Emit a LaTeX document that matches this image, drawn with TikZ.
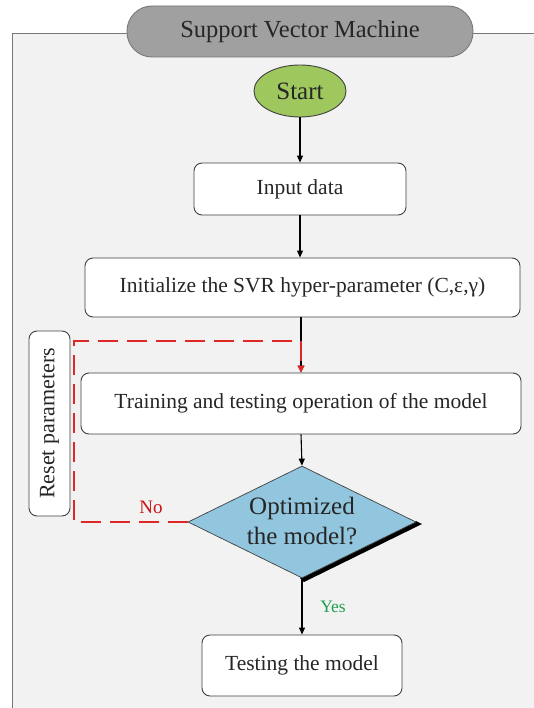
\documentclass[tikz,border=0pt]{standalone}
\usepackage{fontspec}
\setmainfont{Liberation Serif}
\usetikzlibrary{shapes.geometric,arrows.meta}
\definecolor{bgc}{RGB}{242,242,242}
\definecolor{framec}{RGB}{120,120,120}
\definecolor{titlec}{RGB}{160,160,160}
\definecolor{startc}{RGB}{158,200,94}
\definecolor{diac}{RGB}{146,198,222}
\definecolor{txtc}{RGB}{38,38,38}
\definecolor{boxc}{RGB}{64,64,64}
\definecolor{redc}{RGB}{222,40,40}
\definecolor{noc}{RGB}{200,20,20}
\definecolor{yesc}{RGB}{30,160,80}
\tikzset{
  procbox/.style={draw=boxc, line width=0.9pt, fill=white, rounded corners=8pt, text=txtc,
    font=\fontsize{21.5}{26}\selectfont, inner sep=0pt},
  arr/.style={draw=black, line width=1.1pt, -{Triangle[length=7pt,width=6pt]}},
  redarr/.style={draw=redc, line width=2pt, dash pattern=on 20pt off 9pt,
    -{Triangle[length=7pt,width=7pt]}},
}
\begin{document}
\begin{tikzpicture}[x=1pt,y=-1pt]
\useasboundingbox (0,0) rectangle (533,708);
% frame
\fill[bgc] (12,33) rectangle (540,715);
\draw[framec, line width=0.9pt] (12,715) -- (12,33) -- (540,33);
% title
\node[draw=framec, line width=0.9pt, fill=titlec, rounded corners=25pt, minimum width=346pt,
  minimum height=51pt, inner sep=0pt, text=txtc, font=\fontsize{24.5}{28}\selectfont]
  (title) at (300,31.5) {Support Vector Machine};
% start
\node[ellipse, draw=boxc, line width=0.9pt, fill=startc, minimum width=92pt, minimum height=52pt,
  inner sep=0pt, text=txtc, font=\fontsize{25}{28}\selectfont] (start) at (300,91) {Start};
% boxes
\node[procbox, minimum width=212pt, minimum height=52pt] (input) at (300,189) {Input data};
\node[procbox, minimum width=435pt, minimum height=59pt] (init) at (302.5,287.5)
  {Initialize the SVR hyper-parameter (C,ε,γ)};
\node[procbox, minimum width=440pt, minimum height=61pt] (train) at (301,403.5)
  {Training and testing operation of the model};
\node[procbox, rotate=90, minimum width=185pt, minimum height=41pt,
  font=\fontsize{22}{26}\selectfont] (reset) at (49.5,423.5) {Reset parameters};
\node[procbox, minimum width=200pt, minimum height=61pt] (test) at (302,665.5) {Testing the model};
% diamond shadow
\fill[black] (416,521) -- (422,524) -- (304,582) -- (300,578) -- cycle;
\node[diamond, draw=boxc, line width=0.7pt, fill=diac, minimum width=228pt, minimum height=112pt,
  inner sep=0pt] (dia) at (302,522) {};
\node[align=center, text=txtc, font=\fontsize{25}{30}\selectfont, inner sep=0pt]
  (diatext) at (302,521) {Optimized\\the model?};
% arrows
\draw[arr] (start.south) -- (input.north);
\draw[arr] (input.south) -- (input.south |- init.north);
\draw[arr] (train.north |- init.south) -- (train.north);
\draw[arr] (train.south) -- (dia.north);
\draw[arr] (dia.south) -- (test.north);
% red loop
\coordinate (nA) at (74,522);
\coordinate (nB) at (74,341);
\coordinate (nC) at (301,341);
\draw[redarr] (dia.west) -- (nA) -- (nB) -- (nC) -- (train.north);
% labels
\node[text=noc, font=\fontsize{19}{22}\selectfont] (nolab) at (151,507) {No};
\node[text=yesc, font=\fontsize{17.5}{22}\selectfont] (yeslab) at (333,607) {Yes};
\end{tikzpicture}
\end{document}
